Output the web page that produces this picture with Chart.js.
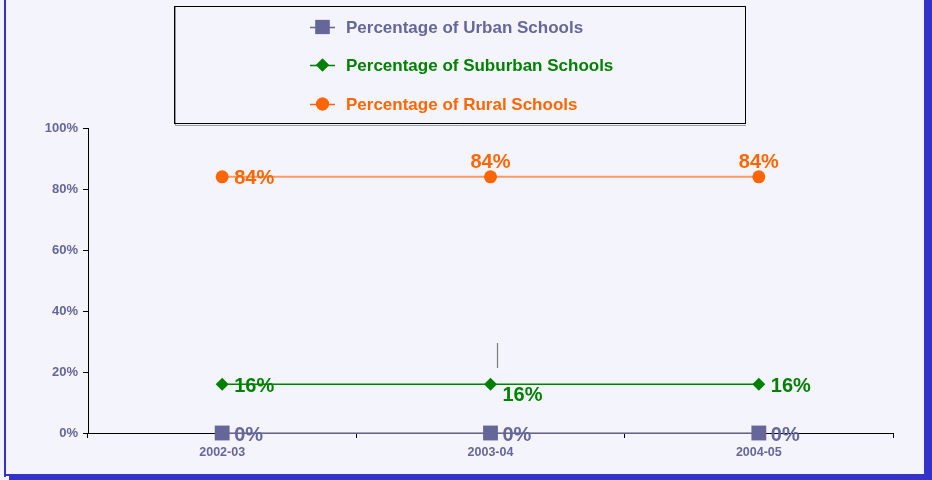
<!DOCTYPE html>
<html>
<head>
<meta charset="utf-8">
<script src="https://cdn.jsdelivr.net/npm/chart.js@4.4.1/dist/chart.umd.min.js"></script>
<style>
  html, body { margin: 0; padding: 0; background: #F4F4FC; }
  #wrap { position: relative; width: 932px; height: 480px; }
</style>
</head>
<body>
<div id="wrap"><canvas id="myChart" width="932" height="480"></canvas></div>
<script>
const years = ['2002-03', '2003-04', '2004-05'];
const urbanPct = [0, 0, 0];
const suburbanPct = [16, 16, 16];
const ruralPct = [84, 84, 84];
const yTicks = [0, 20, 40, 60, 80, 100];

const URBAN = '#666699';
const SUBURB = '#008000';
const RURAL = '#FF6600';
const FONT = '"Liberation Sans", Arial, sans-serif';

// label placement per series / point: r = right, br = below right, t = above
const labelPos = [
  ['r', 'r', 'r'],
  ['r', 'br', 'r'],
  ['r', 't', 't']
];
const labelColors = [URBAN, SUBURB, RURAL];

// frame, legend box and labels
const decor = {
  id: 'decor',
  beforeDraw(chart) {
    const c = chart.ctx;
    c.save();
    c.fillStyle = '#F4F4FC';
    c.fillRect(0, 0, chart.width, chart.height);
    // panel border + shadow
    c.fillStyle = '#3434C8';
    c.fillRect(4, 0, 2, 477);
    c.fillRect(4, 474, 922, 2);
    c.fillRect(924, 0, 2, 476);
    c.fillStyle = '#3333CC';
    c.fillRect(926, 0, 6, 480);
    c.fillRect(9, 476, 923, 4);
    c.restore();
  },
  afterDraw(chart) {
    const c = chart.ctx;
    c.save();
    // legend box
    c.strokeStyle = '#999999';
    c.lineWidth = 1;
    c.beginPath(); c.moveTo(175.5, 7); c.lineTo(175.5, 125.5); c.lineTo(746, 125.5); c.stroke();
    c.strokeStyle = '#000';
    c.strokeRect(174.5, 6.5, 571, 117);
    const items = [
      { text: 'Percentage of Urban Schools', color: URBAN, style: 'rect', r: 10, y: 27 },
      { text: 'Percentage of Suburban Schools', color: SUBURB, style: 'rectRot', r: 6.5, y: 65 },
      { text: 'Percentage of Rural Schools', color: RURAL, style: 'circle', r: 6.5, y: 104 }
    ];
    items.forEach(it => {
      c.strokeStyle = it.color;
      c.lineWidth = 1.5;
      c.beginPath(); c.moveTo(310, it.y + 0.5); c.lineTo(335, it.y + 0.5); c.stroke();
      c.fillStyle = it.color;
      Chart.helpers.drawPoint(c, { pointStyle: it.style, radius: it.r, borderWidth: 0 }, 322.5, it.y);
      c.fill();
      c.font = 'bold 17px ' + FONT;
      c.textAlign = 'left';
      c.textBaseline = 'middle';
      c.fillText(it.text, 346, it.y + 1);
    });

    // data labels
    c.font = 'bold 20px ' + FONT;
    chart.data.datasets.forEach((ds, di) => {
      const meta = chart.getDatasetMeta(di);
      meta.data.forEach((pt, i) => {
        const txt = ds.data[i] + '%';
        const pos = labelPos[di][i];
        c.fillStyle = labelColors[di];
        c.textBaseline = 'middle';
        if (pos === 'r') {
          c.textAlign = 'left';
          c.fillText(txt, pt.x + 12, pt.y + 2);
        } else if (pos === 'br') {
          c.textAlign = 'left';
          c.fillText(txt, pt.x + 12, pt.y + 11);
        } else {
          c.textAlign = 'center';
          c.fillText(txt, pt.x, pt.y - 14);
        }
      });
    });

    // stray leader line near the middle suburban label
    const xs = chart.scales.x, ys = chart.scales.y;
    const lx = Math.round(xs.getPixelForValue(1)) + 6.5;
    c.strokeStyle = '#808080';
    c.lineWidth = 1.3;
    c.beginPath();
    c.moveTo(lx, ys.getPixelForValue(29.5));
    c.lineTo(lx, ys.getPixelForValue(21.3));
    c.stroke();
    c.restore();
  }
};

const ctx = document.getElementById('myChart').getContext('2d');

const myChart = new Chart(ctx, {
  type: 'line',
  data: {
    labels: years,
    datasets: [
      {
        label: 'Percentage of Urban Schools',
        data: urbanPct,
        borderColor: '#8888AA',
        borderWidth: 1.5,
        pointStyle: 'rect',
        pointRadius: 10.5,
        pointBackgroundColor: URBAN,
        pointBorderWidth: 0,
        clip: false
      },
      {
        label: 'Percentage of Suburban Schools',
        data: suburbanPct,
        borderColor: SUBURB,
        borderWidth: 1.5,
        pointStyle: 'rectRot',
        pointRadius: 6.5,
        pointBackgroundColor: SUBURB,
        pointBorderWidth: 0
      },
      {
        label: 'Percentage of Rural Schools',
        data: ruralPct,
        borderColor: '#FF9966',
        borderWidth: 2,
        pointStyle: 'circle',
        pointRadius: 6.5,
        pointBackgroundColor: RURAL,
        pointBorderWidth: 0
      }
    ]
  },
  options: {
    responsive: false,
    animation: false,
    events: [],
    layout: { padding: { top: 128, right: 39, bottom: 0, left: 0 } },
    plugins: {
      legend: { display: false },
      tooltip: { enabled: false }
    },
    scales: {
      x: {
        offset: true,
        afterFit(scale) { scale.height = 47; },
        border: { color: '#000', width: 1 },
        grid: { display: true, drawOnChartArea: false, offset: true, tickLength: 5, color: '#000' },
        ticks: { color: URBAN, font: { family: FONT, size: 12.5, weight: 'bold' }, padding: 7 }
      },
      y: {
        min: 0,
        max: 100,
        afterFit(scale) { scale.width = 88; },
        afterBuildTicks(scale) { scale.ticks = yTicks.map(v => ({ value: v })); },
        border: { color: '#000', width: 1 },
        grid: { display: true, drawOnChartArea: false, tickLength: 5, color: '#000' },
        ticks: {
          color: URBAN,
          font: { family: FONT, size: 13, weight: 'bold' },
          padding: 5,
          callback: v => v + '%'
        }
      }
    }
  },
  plugins: [decor]
});
</script>
</body>
</html>
